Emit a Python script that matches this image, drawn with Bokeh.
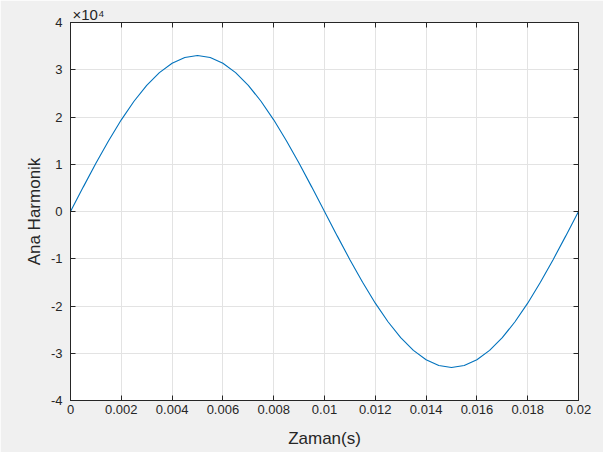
from bokeh.plotting import figure
from bokeh.models import Range1d, FixedTicker, LinearAxis, Title
from bokeh.embed import file_html
from bokeh.resources import INLINE

# time samples (s) and fundamental harmonic values
t = [0.0, 0.0005, 0.001, 0.0015, 0.002, 0.0025, 0.003, 0.0035, 0.004, 0.0045,
     0.005, 0.0055, 0.006, 0.0065, 0.007, 0.0075, 0.008, 0.0085, 0.009, 0.0095,
     0.01, 0.0105, 0.011, 0.0115, 0.012, 0.0125, 0.013, 0.0135, 0.014, 0.0145,
     0.015, 0.0155, 0.016, 0.0165, 0.017, 0.0175, 0.018, 0.0185, 0.019, 0.0195, 0.02]
harmonic = [0, 5160, 10200, 14980, 19400, 23330, 26700, 29400, 31380, 32590,
            33000, 32590, 31380, 29400, 26700, 23330, 19400, 14980, 10200, 5160,
            0, -5160, -10200, -14980, -19400, -23330, -26700, -29400, -31380, -32590,
            -33000, -32590, -31380, -29400, -26700, -23330, -19400, -14980, -10200, -5160, 0]

x_ticks = [0, 0.002, 0.004, 0.006, 0.008, 0.01, 0.012, 0.014, 0.016, 0.018, 0.02]
x_tick_labels = ["0", "0.002", "0.004", "0.006", "0.008", "0.01", "0.012", "0.014", "0.016", "0.018", "0.02"]
y_ticks = [-40000, -30000, -20000, -10000, 0, 10000, 20000, 30000, 40000]
y_tick_labels = ["-4", "-3", "-2", "-1", "0", "1", "2", "3", "4"]
exponent_text = "×10⁴"

FONT = "Liberation Sans"
DARK = "#262626"

p = figure(width=603, height=452, output_backend="svg", toolbar_location=None,
           x_range=Range1d(0, 0.02), y_range=Range1d(-40000, 40000),
           min_border_left=70, min_border_right=25, min_border_top=22, min_border_bottom=52,
           title=Title(text=exponent_text, align="left", offset=2, standoff=0,
                       text_font=FONT, text_font_size="15px", text_font_style="normal",
                       text_color=DARK))
p.border_fill_color = "#f0f0f0"
p.background_fill_color = "white"
p.outline_line_color = DARK
p.outline_line_width = 1

p.line(t, harmonic, line_color="#0072BD", line_width=1.1)

for ax, ticks, labels in ((p.xaxis[0], x_ticks, x_tick_labels), (p.yaxis[0], y_ticks, y_tick_labels)):
    ax.ticker = FixedTicker(ticks=ticks)
    ax.major_label_overrides = {tk: lb for tk, lb in zip(ticks, labels)}
    ax.major_tick_in = 5
    ax.major_tick_out = 0
    ax.minor_tick_in = 0
    ax.minor_tick_out = 0
    ax.axis_line_color = DARK
    ax.major_tick_line_color = DARK
    ax.major_label_text_font = FONT
    ax.major_label_text_font_size = "13px"
    ax.major_label_text_color = DARK
    ax.axis_label_text_font = FONT
    ax.axis_label_text_font_size = "17px"
    ax.axis_label_text_font_style = "normal"
    ax.axis_label_text_color = DARK

p.xaxis[0].axis_label = "Zaman(s)"
p.xaxis[0].major_label_standoff = 4
p.xaxis[0].axis_label_standoff = 12
p.yaxis[0].axis_label = "Ana Harmonik"
p.yaxis[0].major_label_standoff = 8
p.yaxis[0].axis_label_standoff = 4

top = LinearAxis(ticker=FixedTicker(ticks=x_ticks),
                 major_label_overrides={tk: "" for tk in x_ticks},
                 major_label_standoff=0,
                 major_tick_in=5, major_tick_out=0, minor_tick_in=0, minor_tick_out=0,
                 axis_line_color=DARK, major_tick_line_color=DARK)
right = LinearAxis(ticker=FixedTicker(ticks=y_ticks),
                   major_label_overrides={tk: "" for tk in y_ticks},
                   major_tick_in=5, major_tick_out=0, minor_tick_in=0, minor_tick_out=0,
                   axis_line_color=DARK, major_tick_line_color=DARK)
p.add_layout(top, "above")
p.add_layout(right, "right")

p.xgrid.ticker = FixedTicker(ticks=x_ticks)
p.ygrid.ticker = FixedTicker(ticks=y_ticks)
p.xgrid.grid_line_color = "#e3e3e3"
p.ygrid.grid_line_color = "#e3e3e3"

open("out.html", "w").write(file_html(p, INLINE))
